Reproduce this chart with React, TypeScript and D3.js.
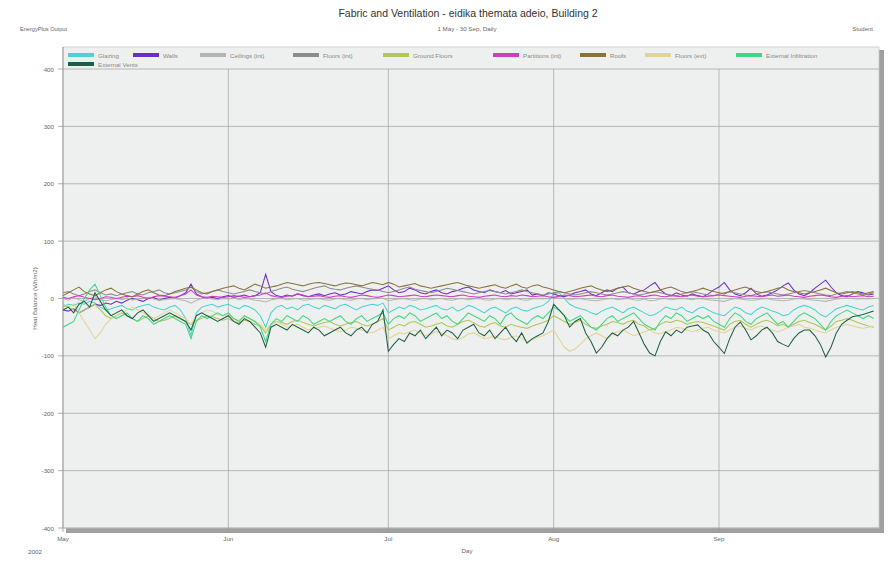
import React from "react";
import * as d3 from "d3";

const startDate = new Date(2002, 4, 1);
const monthTicks = ["May", "Jun", "Jul", "Aug", "Sep"];
const yTicks = [400, 300, 200, 100, 0, -100, -200, -300, -400];

const glazing = [
  -15,-10,-12,-8,-10,-5,-8,-15,-20,-18, -15,-12,-18,-20,-15,-12,-10,-15,-18,-20,
  -15,-12,-20,-35,-65,-25,-15,-12,-10,-15, -12,-10,-15,-18,-12,-15,-20,-30,-50,-25,
  -15,-12,-18,-15,-20,-12,-10,-15,-18,-12, -15,-18,-12,-10,-15,-20,-15,-12,-10,-12,
  -8,-25,-20,-15,-18,-12,-15,-20,-18,-15, -12,-18,-20,-15,-22,-18,-12,-15,-20,-25,
  -18,-15,-20,-25,-18,-15,-20,-22,-18,-15, -12,-5,8,10,0,-10,-15,-18,-20,-25,
  -28,-22,-18,-15,-20,-25,-18,-15,-20,-25, -30,-28,-22,-15,-18,-20,-15,-22,-25,-18,
  -15,-20,-25,-28,-30,-22,-15,-18,-25,-28, -20,-15,-18,-22,-25,-30,-28,-20,-15,-12,
  -15,-20,-28,-32,-25,-18,-15,-12,-15,-18, -20,-15,-12,
];
const walls = [
  -20,-22,-18,-25,-20,-15,-10,-12,-8,-10, -5,-8,-3,0,-2,-5,0,2,-3,0,
  2,0,5,10,25,8,3,0,2,0, 3,5,2,4,6,3,5,10,42,12,
  5,3,6,4,8,5,3,6,8,5, 8,10,6,8,12,10,8,12,15,14,
  18,22,15,10,12,18,15,10,8,12, 15,10,8,12,14,18,20,15,12,10,
  15,12,10,14,8,10,12,15,6,8, 5,10,8,5,3,6,10,12,15,8,
  5,10,15,12,18,20,10,8,12,15, 22,28,15,8,5,10,6,4,8,5,
  3,8,15,20,28,15,8,5,10,18, 8,4,6,10,15,22,27,15,8,5,
  10,18,25,32,20,10,5,3,8,12, 10,6,8,
];
const ceilingsInt = [
  0,-3,2,-2,-5,0,3,-2,-4,-2, 0,-2,1,-3,-1,0,2,-1,-3,-2,
  -1,0,-2,-4,-8,-3,0,1,-1,-2, 0,-1,1,-2,0,-1,-3,-4,-6,-2,
  -1,0,-2,-1,0,-3,-2,-1,0,-2, -3,-1,0,-2,-3,-1,0,-2,-1,0,
  1,-4,-2,-1,0,-2,-3,-1,0,-2, -1,0,-2,-3,-1,0,-2,-1,0,-2,
  -3,-1,0,-2,-1,0,-2,-3,-1,0, -1,0,2,1,0,-2,-1,0,-2,-3,
  -4,-2,-1,0,-2,-1,0,-2,-3,-1, -4,-3,-1,0,-2,-1,0,-1,-2,0,
  -1,-2,-3,-4,-5,-2,0,-1,-2,-3, -2,-1,0,-2,-3,-4,-3,-1,0,-1,
  -2,-3,-4,-5,-3,-1,0,1,0,-1, 0,-1,0,
];
const floorsInt = [
  10,12,8,5,8,12,15,10,6,8, 5,8,10,12,8,6,10,12,15,10,
  8,10,12,15,20,12,8,10,12,15, 12,10,8,10,12,15,12,10,8,12,
  15,18,20,16,14,12,15,18,20,22, 18,16,15,18,20,22,20,18,16,15,
  12,10,12,15,18,20,16,14,12,10, 12,15,18,16,14,12,10,8,10,12,
  14,12,10,8,10,12,15,12,10,8, 6,8,10,12,10,8,6,8,10,12,
  10,8,6,8,10,12,10,8,6,8, 10,12,10,8,6,5,8,10,12,10,
  8,6,5,8,10,12,10,8,6,5, 8,10,12,10,8,6,8,10,12,14,
  12,10,8,6,5,8,10,12,10,8, 6,8,10,
];
const groundFloors = [
  -10,-15,-20,-25,-20,-15,-10,-20,-30,-35, -30,-25,-30,-35,-40,-35,-30,-35,-40,-38,
  -35,-30,-35,-40,-45,-38,-35,-30,-32,-35, -38,-35,-40,-42,-38,-40,-45,-48,-60,-45,
  -40,-42,-45,-40,-38,-42,-45,-48,-45,-42, -40,-45,-48,-45,-42,-40,-45,-48,-45,-40,
  -35,-55,-50,-45,-48,-42,-40,-45,-50,-48, -45,-42,-48,-50,-45,-40,-38,-42,-48,-50,
  -45,-42,-48,-50,-45,-48,-50,-52,-48,-45, -42,-38,-30,-35,-40,-45,-42,-38,-45,-50,
  -52,-48,-45,-40,-42,-45,-40,-38,-45,-48, -55,-52,-45,-40,-42,-38,-40,-45,-42,-40,
  -42,-45,-48,-52,-55,-45,-40,-38,-45,-50, -45,-40,-38,-42,-48,-45,-50,-45,-40,-38,
  -42,-45,-50,-55,-48,-40,-38,-35,-38,-42, -45,-48,-50,
];
const partitionsInt = [
  2,0,3,5,2,0,-2,0,3,2, 0,2,4,3,5,2,0,3,5,4,
  3,2,5,8,15,6,3,2,4,3, 2,3,5,4,2,3,5,6,10,5,
  3,2,4,5,8,6,3,4,5,3, 2,4,5,3,2,4,6,5,3,2,
  4,6,5,3,4,5,6,4,3,5, 6,5,4,3,5,6,4,3,2,4,
  5,6,4,3,5,4,6,5,3,4, 5,3,2,4,6,5,3,4,5,6,
  4,3,5,6,4,3,2,4,5,3, 5,6,4,3,5,4,3,5,6,4,
  3,4,5,6,5,4,3,2,4,5, 4,3,5,6,4,5,6,4,3,2,
  4,5,6,5,3,2,4,5,3,4, 5,3,4,
];
const roofs = [
  5,10,15,20,12,8,5,10,15,18, 12,8,5,3,8,12,15,10,6,5,
  8,12,15,18,20,15,10,8,12,15, 18,20,22,18,15,20,25,22,18,20,
  22,25,28,26,24,22,25,27,28,26, 24,22,25,27,26,24,22,25,28,26,
  24,28,25,20,22,24,26,22,20,18, 20,22,24,26,28,25,22,20,18,20,
  22,24,20,18,22,25,20,18,22,24, 20,18,15,12,10,12,15,18,20,22,
  18,15,12,15,18,20,22,18,15,12, 10,12,15,18,20,16,12,10,12,15,
  18,15,12,10,8,12,15,18,20,16, 12,10,12,15,18,20,15,12,10,8,
  10,12,15,18,14,10,8,10,12,10, 8,10,12,
];
const floorsExt = [
  -20,-15,-10,-25,-40,-55,-70,-60,-45,-35, -30,-25,-20,-15,-20,-25,-30,-35,-30,-25,
  -20,-25,-30,-35,-45,-30,-25,-20,-22,-28, -30,-28,-35,-38,-32,-35,-40,-45,-55,-45,
  -40,-45,-50,-48,-45,-50,-55,-52,-50,-48, -52,-55,-58,-55,-50,-52,-55,-58,-60,-55,
  -50,-70,-65,-60,-62,-58,-55,-60,-65,-62, -58,-60,-65,-70,-72,-68,-62,-60,-65,-70,
  -68,-65,-70,-72,-68,-65,-70,-75,-72,-68, -65,-60,-55,-70,-85,-92,-88,-80,-70,-65,
  -60,-65,-70,-62,-58,-55,-60,-65,-62,-58, -55,-60,-62,-58,-55,-50,-52,-55,-58,-55,
  -52,-50,-55,-58,-60,-55,-50,-48,-52,-55, -50,-48,-52,-55,-58,-55,-50,-48,-45,-50,
  -52,-55,-58,-60,-55,-50,-48,-45,-48,-50, -52,-50,-48,
];
const extInfiltration = [
  -50,-45,-40,-20,0,15,25,5,-15,-30, -35,-30,-25,-35,-40,-30,-35,-45,-40,-35,
  -30,-35,-40,-45,-70,-40,-30,-35,-30,-25, -30,-25,-35,-40,-30,-35,-40,-50,-75,-45,
  -35,-40,-30,-35,-40,-30,-35,-45,-40,-35, -40,-35,-30,-40,-45,-35,-30,-40,-35,-30,
  -25,-45,-35,-30,-35,-25,-30,-40,-35,-30, -25,-35,-30,-40,-45,-35,-25,-30,-35,-40,
  -30,-35,-45,-30,-25,-35,-40,-45,-35,-30, -35,-25,-15,-20,-30,-40,-35,-30,-40,-50,
  -55,-45,-35,-30,-40,-35,-30,-25,-35,-45, -50,-55,-40,-30,-35,-25,-30,-40,-35,-30,
  -35,-30,-40,-45,-50,-35,-25,-30,-40,-45, -35,-30,-25,-35,-45,-40,-50,-40,-30,-25,
  -30,-35,-45,-55,-40,-30,-25,-20,-25,-30, -35,-30,-35,
];
const extVents = [
  -20,-15,-25,-10,-5,-15,10,-5,-20,-30, -25,-20,-30,-35,-25,-20,-30,-40,-35,-30,
  -25,-30,-35,-40,-55,-30,-25,-30,-35,-40, -35,-30,-40,-45,-35,-40,-50,-60,-85,-50,
  -45,-50,-55,-45,-50,-55,-60,-50,-55,-65, -60,-55,-50,-60,-65,-55,-50,-60,-45,-40,
  -20,-92,-80,-70,-75,-60,-65,-55,-70,-60, -50,-65,-55,-60,-70,-55,-50,-45,-60,-65,
  -55,-70,-60,-50,-65,-75,-60,-78,-70,-65, -60,-40,-10,-20,-30,-50,-40,-35,-60,-75,
  -95,-85,-70,-60,-65,-55,-50,-40,-60,-80, -95,-100,-75,-58,-65,-55,-60,-50,-48,-46,
  -55,-60,-75,-85,-96,-70,-50,-41,-55,-72, -65,-55,-50,-60,-75,-80,-84,-70,-60,-55,
  -55,-65,-80,-102,-85,-60,-45,-38,-32,-30, -28,-25,-22,
];

const seriesNames = [
  "Glazing", "Walls", "Ceilings (int)", "Floors (int)", "Ground Floors",
  "Partitions (int)", "Roofs", "Floors (ext)", "External Infiltration", "External Vents",
];
const seriesValues = [
  glazing, walls, ceilingsInt, floorsInt, groundFloors,
  partitionsInt, roofs, floorsExt, extInfiltration, extVents,
];
const seriesColors = [
  "#48d4d4", "#6a2ec8", "#b4b4b4", "#8c8c8c", "#b4c458",
  "#d23cc4", "#8a7238", "#e2d494", "#3ed884", "#1f5e46",
];

const W = 895, H = 563;
const L = 63, R = 879, T = 47, B = 528;
const FONT = "'Liberation Sans', Arial, sans-serif";

export default function App() {
  const nDays = glazing.length;
  const dates = d3.range(nDays).map((i) => d3.timeDay.offset(startDate, i));
  const x = d3.scaleTime().domain([startDate, d3.timeDay.offset(startDate, nDays)]).range([L, R]);
  const y = d3.scaleLinear().domain([-400, 400]).range([B, 69]);
  const line = d3.line<number>().x((_, i) => x(dates[i])).y((v) => y(v));
  const months = d3.timeMonth.range(startDate, d3.timeDay.offset(startDate, nDays));

  const legendRow1 = [68, 133, 200, 293, 383, 493, 580, 645, 736];

  return (
    <svg width={W} height={H} style={{ position: "absolute", left: 0, top: 0, background: "#fff" }} fontFamily={FONT}>
      <text x={468} y={17} textAnchor="middle" fontSize={10.5} fill="#333">
        Fabric and Ventilation - eidika themata adeio, Building 2
      </text>
      <text x={467} y={31} textAnchor="middle" fontSize={6.2} fill="#666">1 May - 30 Sep, Daily</text>
      <text x={20} y={31} fontSize={5.6} fill="#666">EnergyPlus Output</text>
      <text x={873} y={31} textAnchor="end" fontSize={6} fill="#666">Student</text>

      {/* shadow */}
      <rect x={L + 3} y={T + 3} width={R - L + 2} height={B - T + 2} fill="#a0a0a0" />
      <rect x={L} y={T} width={R - L} height={B - T} fill="#eef0ef" stroke="#c8c8c8" strokeWidth={0.8} />

      {yTicks.map((t) => (
        <g key={t}>
          <line x1={L} x2={R} y1={y(t)} y2={y(t)} stroke="#a8a8a8" strokeWidth={0.8} />
          <line x1={L - 5} x2={L} y1={y(t)} y2={y(t)} stroke="#999" strokeWidth={0.8} />
          <text x={L - 9} y={y(t) + 2.5} textAnchor="end" fontSize={6.2} fill="#666">{t}</text>
        </g>
      ))}
      {months.map((m, i) => (
        <g key={i}>
          {i > 0 && <line x1={x(m)} x2={x(m)} y1={T + 22} y2={B} stroke="#a8a8a8" strokeWidth={0.8} />}
          <line x1={x(m)} x2={x(m)} y1={B} y2={B + 4} stroke="#999" strokeWidth={0.8} />
          <text x={x(m)} y={B + 13} textAnchor="middle" fontSize={6.2} fill="#666">{monthTicks[i]}</text>
        </g>
      ))}
      <line x1={L} x2={L} y1={T} y2={B} stroke="#999" strokeWidth={1} />
      <text x={35} y={554} textAnchor="middle" fontSize={6.2} fill="#666">2002</text>
      <text x={467} y={553} textAnchor="middle" fontSize={6.2} fill="#666">Day</text>
      <text transform={`translate(37,${y(0)}) rotate(-90)`} textAnchor="middle" fontSize={6.2} fill="#666">
        Heat Balance (Wh/m2)
      </text>

      {seriesValues.map((vals, i) => (
        <path key={i} d={line(vals) || ""} fill="none" stroke={seriesColors[i]} strokeWidth={1.05} />
      ))}

      {/* legend */}
      {seriesNames.map((name, i) => {
        const lx = i < 9 ? legendRow1[i] : 68;
        const ly = i < 9 ? 55 : 64;
        return (
          <g key={name}>
            <rect x={lx} y={ly - 2} width={26} height={4} fill={seriesColors[i]} />
            <text x={lx + 30} y={ly + 2.5} fontSize={6.2} fill="#888">{name}</text>
          </g>
        );
      })}
    </svg>
  );
}
